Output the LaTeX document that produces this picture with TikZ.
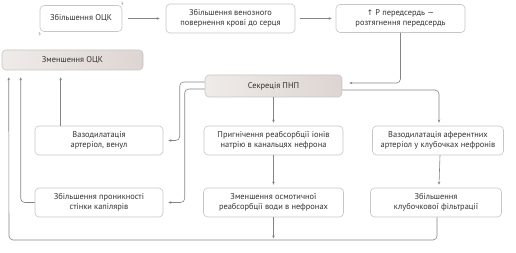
\documentclass[tikz,border=0pt]{standalone}
\usepackage{fontspec}
\setmainfont{PT Sans}
\newfontfamily\symfont{DejaVu Sans}
\usetikzlibrary{arrows.meta}
\definecolor{boxline}{HTML}{C6C6C6}
\definecolor{connc}{HTML}{858585}
\definecolor{txt}{HTML}{333333}
\definecolor{shadeL}{HTML}{EFEBE8}
\definecolor{shadeR}{HTML}{DDD5D1}
\begin{document}
\begin{tikzpicture}[x=1pt,y=-1pt,
  box/.style={draw=boxline, line width=0.6pt, rounded corners=4pt, fill=white,
    text=txt, align=center, font=\fontsize{8.4}{10.5}\selectfont, inner sep=1pt},
  hot/.style={box, left color=shadeL, right color=shadeR},
  conn/.style={draw=connc, line width=0.6pt, rounded corners=4pt,
    -{Stealth[length=3pt,width=2.6pt]}},
]
\useasboundingbox (0,0) rectangle (516,253);

\node[box, minimum width=82pt, minimum height=26pt] (b1) at (81,18.5) {Збільшення ОЦК};
\node[box, minimum width=129pt, minimum height=29pt] (b2) at (230.5,18.5) {Збільшення венозного\\повернення крові до серця};
\node[box, minimum width=129pt, minimum height=28pt] (b3) at (400.5,18.5) {{\symfont\fontsize{7.5}{9}\selectfont ↑} P передсердь —\\розтягнення передсердь};
\node[hot, minimum width=141pt, minimum height=20pt] (b4) at (72.5,60) {Зменшення ОЦК};
\node[hot, minimum width=137pt, minimum height=22pt] (secr) at (273.5,86) {Секреція ПНП};
\node[box, minimum width=128pt, minimum height=29pt] (b6) at (99,140.5) {Вазодилатація\\артеріол, венул};
\node[box, minimum width=139pt, minimum height=29pt] (b7) at (273.5,140.5) {Пригнічення реабсорбції іонів\\натрію в канальцях нефрона};
\node[box, minimum width=131pt, minimum height=29pt] (b8) at (438,140.5) {Вазодилатація аферентних\\артеріол у клубочках нефронів};
\node[box, minimum width=128pt, minimum height=29pt] (b9) at (99,202.5) {Збільшення проникності\\стінки капілярів};
\node[box, minimum width=140pt, minimum height=29pt] (b10) at (273.5,202.5) {Зменшення осмотичної\\реабсорбції води в нефронах};
\node[box, minimum width=131pt, minimum height=29pt] (b11) at (436,202.5) {Збільшення\\клубочкової фільтрації};

\coordinate (bl) at (9,240);

% top row
\draw[conn] ([xshift=6pt]b1.east) -- ([xshift=-6pt]b2.west);
\draw[conn] ([xshift=5pt]b2.east) -- ([xshift=-4pt]b3.west);
\draw[conn] (b3.south) |- ([xshift=7pt,yshift=3pt]secr.east);

% from secretion
\draw[conn] (secr.south) -- ([yshift=3pt]b7.north);
\draw[conn] ([yshift=-4pt]secr.east) -| ([xshift=1pt,yshift=3pt]b8.north);
\draw[conn] ([yshift=4pt]secr.west) -- ++(-25,0) |- ([xshift=5pt]b6.east);
\draw[conn] ([yshift=-3pt]secr.west) -- ++(-20,0) |- ([xshift=5pt]b9.east);

% verticals
\draw[conn] (b7.south) -- ([yshift=3pt]b10.north);
\draw[conn] ([xshift=2pt]b8.south) -- ([xshift=3pt,yshift=3pt]b11.north);

% return paths to b4
\draw[conn] ([xshift=1pt]b11.south) |- (bl) -- ([xshift=7pt,yshift=-7pt]b4.south west);
\draw[conn, shorten >=1.5pt] (b10.south) -- (b10.south |- bl);
\draw[conn] (b9.west) -| ([xshift=19pt,yshift=-7pt]b4.south west);
\draw[conn] ([xshift=26pt]b6.north west) -- ([xshift=59pt,yshift=-7pt]b4.south west);

% faint stubs at b1 corners
\draw[conn, draw=connc!45] (b1.north east) -- ++(0,-4);
\draw[conn, draw=connc!45] (b1.south west) -- ++(0,4);
\end{tikzpicture}
\end{document}
